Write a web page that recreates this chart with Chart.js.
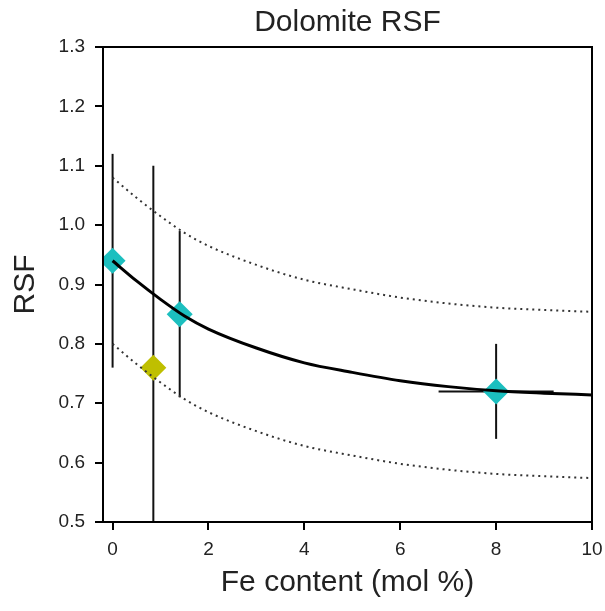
<!DOCTYPE html>
<html>
<head>
<meta charset="utf-8">
<script src="https://cdn.jsdelivr.net/npm/chart.js@4"></script>
<style>
  html, body { margin: 0; padding: 0; background: #fff; }
  #chart { display: block; }
</style>
</head>
<body>
<canvas id="chart" width="605" height="611"></canvas>
<script>
// Measured samples (cyan diamonds)
const sampleX = [0, 1.4, 8];
const sampleY = [0.94, 0.85, 0.72];
const sampleYLow = [0.76, 0.71, 0.64];
const sampleYHigh = [1.12, 0.99, 0.80];
const sampleXLow = [null, null, 6.8];
const sampleXHigh = [null, null, 9.2];

// Outlier sample (yellow diamond)
const outlierX = [0.85];
const outlierY = [0.76];
const outlierYLow = [0.42];
const outlierYHigh = [1.10];

// Fit curve and band
const fitX = [0, 0.5, 1, 1.5, 2, 3, 4, 5, 6, 7, 8, 9, 10];
const fitY = [0.940, 0.906, 0.875, 0.847, 0.825, 0.793, 0.768, 0.752, 0.738, 0.728, 0.721, 0.717, 0.714];
const upperY = [1.080, 1.046, 1.015, 0.987, 0.965, 0.933, 0.908, 0.892, 0.878, 0.868, 0.861, 0.857, 0.854];
const lowerY = [0.800, 0.766, 0.735, 0.707, 0.685, 0.653, 0.628, 0.612, 0.598, 0.588, 0.581, 0.577, 0.574];

const xTicks = [0, 2, 4, 6, 8, 10];
const yTicks = [0.5, 0.6, 0.7, 0.8, 0.9, 1.0, 1.1, 1.2, 1.3];

const toPts = (xs, ys) => xs.map((x, i) => ({ x: x, y: ys[i] }));

// error bars, drawn under the markers
const errorBars = {
    id: 'errorBars',
    beforeDatasetsDraw(chart) {
        const { ctx, chartArea, scales } = chart;
        const xs = scales.x, ys = scales.y;
        ctx.save();
        ctx.beginPath();
        ctx.rect(chartArea.left, chartArea.top, chartArea.right - chartArea.left, chartArea.bottom - chartArea.top);
        ctx.clip();
        ctx.strokeStyle = '#111';
        ctx.lineWidth = 2;
        const bars = [];
        sampleX.forEach((x, i) => {
            bars.push([x, sampleYLow[i], x, sampleYHigh[i]]);
            if (sampleXLow[i] !== null) bars.push([sampleXLow[i], sampleY[i], sampleXHigh[i], sampleY[i]]);
        });
        outlierX.forEach((x, i) => bars.push([x, outlierYLow[i], x, outlierYHigh[i]]));
        bars.forEach(b => {
            ctx.beginPath();
            ctx.moveTo(xs.getPixelForValue(b[0]), ys.getPixelForValue(b[1]));
            ctx.lineTo(xs.getPixelForValue(b[2]), ys.getPixelForValue(b[3]));
            ctx.stroke();
        });
        ctx.restore();
    }
};

// full box round the plot
const frame = {
    id: 'frame',
    afterDraw(chart) {
        const { ctx, chartArea } = chart;
        ctx.save();
        ctx.strokeStyle = '#000';
        ctx.lineWidth = 2;
        ctx.strokeRect(chartArea.left, chartArea.top, chartArea.right - chartArea.left, chartArea.bottom - chartArea.top);
        ctx.restore();
    }
};

const font = "'Liberation Sans', Arial, sans-serif";

new Chart(document.getElementById('chart'), {
    type: 'scatter',
    data: {
        datasets: [
            {
                label: 'fit',
                data: toPts(fitX, fitY),
                showLine: true,
                borderColor: '#000',
                borderWidth: 3,
                pointRadius: 0,
                cubicInterpolationMode: 'monotone',
                order: 0,
                clip: 0
            },
            {
                label: 'upper',
                data: toPts(fitX, upperY),
                showLine: true,
                borderColor: '#333',
                borderWidth: 2,
                borderDash: [2, 4],
                pointRadius: 0,
                cubicInterpolationMode: 'monotone',
                order: 1,
                clip: 0
            },
            {
                label: 'lower',
                data: toPts(fitX, lowerY),
                showLine: true,
                borderColor: '#333',
                borderWidth: 2,
                borderDash: [2, 4],
                pointRadius: 0,
                cubicInterpolationMode: 'monotone',
                order: 1,
                clip: 0
            },
            {
                label: 'samples',
                data: toPts(sampleX, sampleY),
                pointStyle: 'rectRot',
                pointRadius: 13,
                pointBackgroundColor: '#1cbfbf',
                pointBorderWidth: 0,
                order: 2,
                clip: 0
            },
            {
                label: 'outlier',
                data: toPts(outlierX, outlierY),
                pointStyle: 'rectRot',
                pointRadius: 13,
                pointBackgroundColor: '#bfbf00',
                pointBorderWidth: 0,
                order: 2,
                clip: 0
            }
        ]
    },
    options: {
        responsive: false,
        animation: false,
        layout: { padding: { left: 0, right: 12, top: 0, bottom: 0 } },
        plugins: {
            legend: { display: false },
            tooltip: { enabled: false },
            title: {
                display: true,
                text: 'Dolomite RSF',
                fullSize: false,
                color: '#222',
                font: { family: font, size: 30, weight: 'normal' },
                padding: { top: 4.5, bottom: 6.5 }
            }
        },
        scales: {
            x: {
                type: 'linear',
                min: -0.2,
                max: 10,
                afterBuildTicks: s => { s.ticks = xTicks.map(v => ({ value: v })); },
                afterFit: s => { s.height = 89; s.paddingLeft = 0; s.paddingRight = 0; },
                ticks: {
                    color: '#222',
                    font: { family: font, size: 19 },
                    padding: 8
                },
                grid: { drawOnChartArea: false, drawTicks: true, tickLength: 8, color: '#000', lineWidth: 2 },
                border: { color: '#000', width: 2 },
                title: {
                    display: true,
                    text: 'Fe content (mol %)',
                    color: '#222',
                    font: { family: font, size: 30 },
                    padding: { top: 0, bottom: 10.5 }
                }
            },
            y: {
                type: 'linear',
                min: 0.5,
                max: 1.3,
                afterBuildTicks: s => { s.ticks = yTicks.map(v => ({ value: v })); },
                afterFit: s => { s.width = 103; s.paddingTop = 0; s.paddingBottom = 0; },
                ticks: {
                    color: '#222',
                    font: { family: font, size: 19 },
                    padding: 10,
                    callback: v => v.toFixed(1)
                },
                grid: { drawOnChartArea: false, drawTicks: true, tickLength: 8, color: '#000', lineWidth: 2 },
                border: { color: '#000', width: 2 },
                title: {
                    display: true,
                    text: 'RSF',
                    color: '#222',
                    font: { family: font, size: 30 },
                    padding: { top: 8, bottom: 0 }
                }
            }
        }
    },
    plugins: [errorBars, frame]
});
</script>
</body>
</html>
